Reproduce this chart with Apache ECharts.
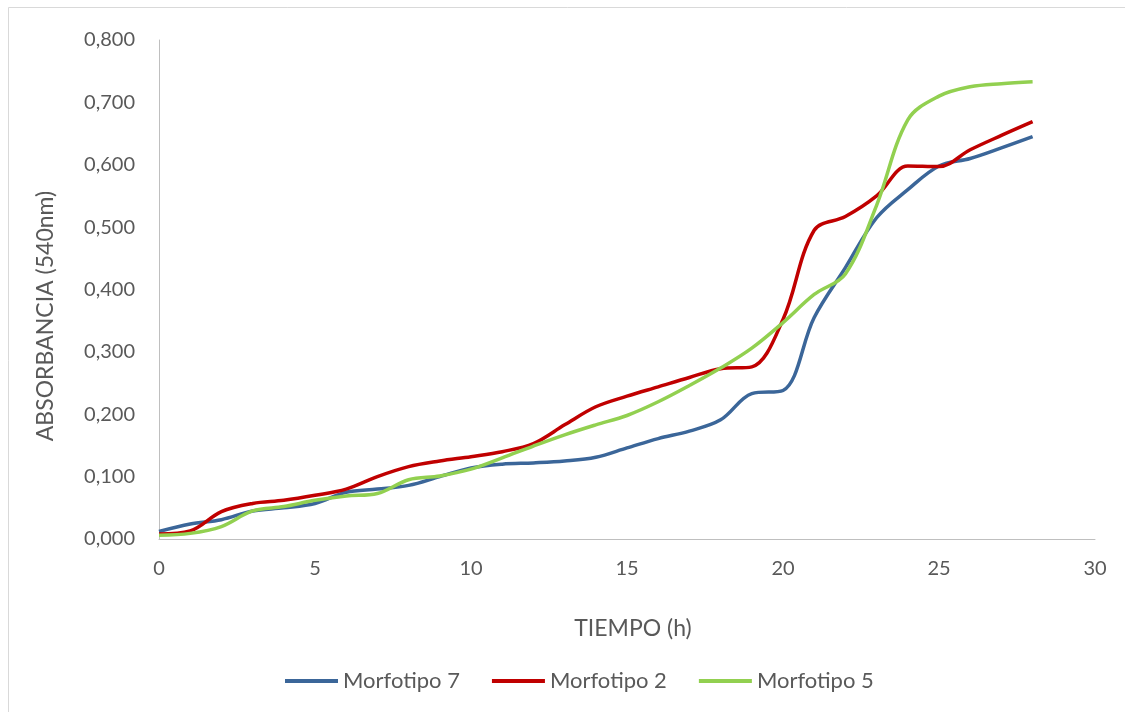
<!DOCTYPE html>
<html>
<head>
<meta charset="utf-8">
<script src="https://cdn.jsdelivr.net/npm/echarts@6/dist/echarts.min.js"></script>
<style>
html,body{margin:0;padding:0;background:#fff;}
#chart{width:1125px;height:712px;}
</style>
</head>
<body>
<div id="chart"></div>
<script>
const hours = [0,1,2,3,4,5,6,7,8,9,10,11,12,13,14,15,16,17,18,19,20,21,22,23,24,25,26,27,28];
const morfotipo7 = [0.012,0.024,0.031,0.045,0.050,0.057,0.075,0.080,0.086,0.100,0.114,0.120,0.122,0.125,0.131,0.146,0.161,0.173,0.191,0.233,0.238,0.355,0.435,0.515,0.560,0.598,0.610,0.627,0.645];
const morfotipo2 = [0.008,0.013,0.044,0.057,0.062,0.070,0.080,0.100,0.116,0.125,0.132,0.140,0.153,0.183,0.212,0.229,0.244,0.259,0.273,0.276,0.352,0.495,0.517,0.550,0.598,0.597,0.624,0.647,0.669];
const morfotipo5 = [0.006,0.009,0.020,0.045,0.052,0.062,0.069,0.073,0.095,0.101,0.112,0.130,0.149,0.167,0.183,0.198,0.220,0.246,0.274,0.306,0.347,0.392,0.425,0.535,0.672,0.710,0.725,0.730,0.733];
const seriesNames = ['Morfotipo 7','Morfotipo 2','Morfotipo 5'];
const yTicks = [0,0.1,0.2,0.3,0.4,0.5,0.6,0.7,0.8];
const xTicks = [0,5,10,15,20,25,30];
const yTitle = 'ABSORBANCIA (540nm)';
const xTitle = 'TIEMPO (h)';

const colors = ['#3B6699','#C00000','#92D050'];
const font = 'Lato, "Open Sans", sans-serif';
function pair(arr){ return hours.map((h,i)=>[h,arr[i]]); }
const allData = [morfotipo7, morfotipo2, morfotipo5];

const chart = echarts.init(document.getElementById('chart'));
chart.setOption({
  animation:false,
  backgroundColor:'#fff',
  graphic:[
    {type:'rect',shape:{x:8.5,y:7.5,width:1130,height:720},style:{fill:'none',stroke:'#d9d9d9',lineWidth:1},z:-1},
    {type:'text',x:46,y:316,rotation:Math.PI/2,
      style:{text:yTitle,fontFamily:font,fontSize:23,fill:'#595959',textAlign:'center',textVerticalAlign:'middle'}}
  ],
  grid:{left:159,right:30,top:40,bottom:173},
  xAxis:{
    type:'value',min:xTicks[0],max:xTicks[xTicks.length-1],interval:5,
    name:xTitle,nameLocation:'middle',nameGap:78,
    nameTextStyle:{fontFamily:font,fontSize:23,color:'#595959',padding:[0,0,0,12]},
    axisLine:{lineStyle:{color:'#bfbfbf',width:1}},
    axisTick:{show:false},splitLine:{show:false},
    axisLabel:{fontFamily:font,fontSize:20,color:'#595959',margin:20}
  },
  yAxis:{
    type:'value',min:yTicks[0],max:yTicks[yTicks.length-1],interval:0.1,
    axisLine:{show:true,lineStyle:{color:'#bfbfbf',width:1}},
    axisTick:{show:false},splitLine:{show:false},
    axisLabel:{fontFamily:font,fontSize:20,color:'#595959',margin:24,
      formatter:v=>v.toFixed(3).replace('.',',')}
  },
  legend:{
    top:665,left:280,icon:'rect',itemWidth:53,itemHeight:4,itemGap:32,
    textStyle:{fontFamily:font,fontSize:22,color:'#595959'},
    data:seriesNames
  },
  series:seriesNames.map((n,i)=>({
    name:n,type:'line',data:pair(allData[i]),smooth:0.35,showSymbol:false,
    lineStyle:{color:colors[i],width:3.5},itemStyle:{color:colors[i]}
  }))
});
</script>
</body>
</html>
